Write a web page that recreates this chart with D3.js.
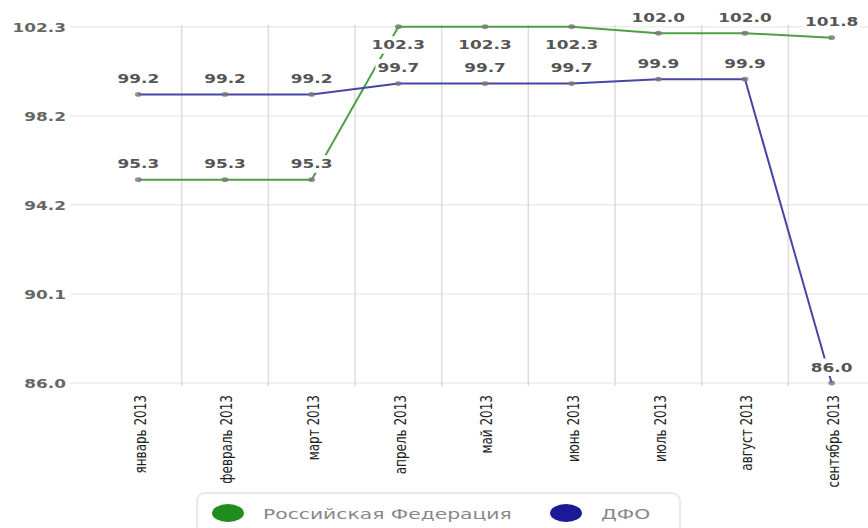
<!DOCTYPE html>
<html>
<head>
<meta charset="utf-8">
<script src="https://cdn.jsdelivr.net/npm/d3@7"></script>
<style>
  html, body { margin: 0; padding: 0; background: #fff; }
  svg { display: block; font-family: "DejaVu Sans", Verdana, sans-serif; }
</style>
</head>
<body>
<svg id="chart" width="868" height="528"></svg>
<script>
const categories = ["январь 2013", "февраль 2013", "март 2013", "апрель 2013", "май 2013",
                    "июнь 2013", "июль 2013", "август 2013", "сентябрь 2013"];
const seriesNames = ["Российская Федерация", "ДФО"];
const rfValues  = [95.3, 95.3, 95.3, 102.3, 102.3, 102.3, 102.0, 102.0, 101.8];
const dfoValues = [99.2, 99.2, 99.2, 99.7, 99.7, 99.7, 99.9, 99.9, 86.0];
const yTickValues = [86.0, 90.075, 94.15, 98.225, 102.3];
const yTickLabels = ["86.0", "90.1", "94.2", "98.2", "102.3"];

const lineColors   = ["#4f9f45", "#4646a6"];
const legendColors = ["#1f8c1f", "#1a1a96"];
const SX = 1.3;      // horizontal stretch of glyphs seen in the reference
const SX_LEG = 1.45; // legend text stretch

const svg = d3.select("#chart");
const plot = { left: 95, right: 875, top: 26.7, bottom: 383 };

const x = d3.scaleBand().domain(categories).range([plot.left, plot.right]);
const y = d3.scaleLinear().domain([86.0, 102.3]).range([plot.bottom, plot.top]);
const cx = c => x(c) + x.bandwidth() / 2;

// horizontal grid
const gGrid = svg.append("g");
gGrid.selectAll("line.h").data(yTickValues).join("line")
  .attr("x1", 70).attr("x2", 868)
  .attr("y1", d => y(d)).attr("y2", d => y(d))
  .attr("stroke", "#ececec").attr("stroke-width", 1.5);
// vertical grid (between categories)
gGrid.selectAll("line.v").data(categories.slice(1)).join("line")
  .attr("x1", d => x(d)).attr("x2", d => x(d))
  .attr("y1", plot.top - 2).attr("y2", plot.bottom + 3)
  .attr("stroke", "#dcdcdc").attr("stroke-width", 1.5);

// y axis labels
const yAxis = d3.axisLeft(y).tickValues(yTickValues).tickSize(0)
  .tickFormat((d, i) => yTickLabels[i]);
const gy = svg.append("g").attr("transform", `translate(${plot.left},0)`).call(yAxis);
gy.select(".domain").remove();
gy.selectAll(".tick text")
  .attr("x", 0).attr("dy", "0.35em")
  .attr("transform", `translate(${66 - plot.left},0) scale(${SX},1)`)
  .attr("text-anchor", "end")
  .style("font-family", "DejaVu Sans")
  .style("font-size", "13px").style("font-weight", "bold").attr("fill", "#666");

// x axis labels
const xAxis = d3.axisBottom(x).tickSize(0);
const gx = svg.append("g").attr("transform", `translate(0,${plot.bottom})`).call(xAxis);
gx.select(".domain").remove();
gx.selectAll(".tick text")
  .attr("x", 0).attr("y", 0).attr("dy", "0.35em")
  .attr("text-anchor", "end")
  .attr("transform", `translate(2,12) scale(${SX},1) rotate(-90)`)
  .style("font-family", "DejaVu Sans")
  .style("font-size", "12px").attr("fill", "#222");

// series
const series = [rfValues, dfoValues];
const line = d3.line().x((d, i) => cx(categories[i])).y(d => y(d));
const gSeries = svg.append("g");
series.forEach((vals, s) => {
  gSeries.append("path").datum(vals)
    .attr("d", line).attr("fill", "none")
    .attr("stroke", lineColors[s]).attr("stroke-width", 2);
});
series.forEach((vals, s) => {
  gSeries.append("g").selectAll("ellipse").data(vals).join("ellipse")
    .attr("cx", (d, i) => cx(categories[i])).attr("cy", d => y(d))
    .attr("rx", 2.6 * SX).attr("ry", 2.4)
    .attr("fill", "#777").attr("opacity", 0.8);
});

// data labels with white background
const gLabels = svg.append("g");
series.forEach((vals, s) => {
  vals.forEach((v, i) => {
    const py = y(v);
    const above = py - 16 - 8 >= 8;
    const ly = above ? py - 16 : py + 18;
    const g = gLabels.append("g").attr("transform", `translate(${cx(categories[i])},${ly})`);
    const rect = g.append("rect").attr("fill", "#fff");
    const t = g.append("text")
      .attr("text-anchor", "middle").attr("dy", "0.35em")
      .attr("transform", `scale(${SX},1)`)
      .style("font-size", "13px").style("font-weight", "bold")
      .attr("fill", "#555").text(v.toFixed(1));
    const b = t.node().getBBox();
    rect.attr("x", b.x * SX - 2).attr("y", b.y - 1)
      .attr("width", b.width * SX + 4).attr("height", b.height + 2);
  });
});

// legend
const gLeg = svg.append("g");
gLeg.append("rect")
  .attr("x", 197).attr("y", 493).attr("width", 483).attr("height", 50)
  .attr("rx", 8).attr("fill", "#fff").attr("stroke", "#e4e4e4").attr("stroke-width", 1.5);
const legX = [228, 566];
seriesNames.forEach((name, s) => {
  gLeg.append("ellipse").attr("cx", legX[s]).attr("cy", 513)
    .attr("rx", 16).attr("ry", 9).attr("fill", legendColors[s]);
  gLeg.append("text")
    .attr("transform", `translate(${legX[s] + 35},514) scale(${SX_LEG},1)`)
    .attr("dy", "0.35em")
    .style("font-size", "14px").attr("fill", "#888").text(name);
});
</script>
</body>
</html>
